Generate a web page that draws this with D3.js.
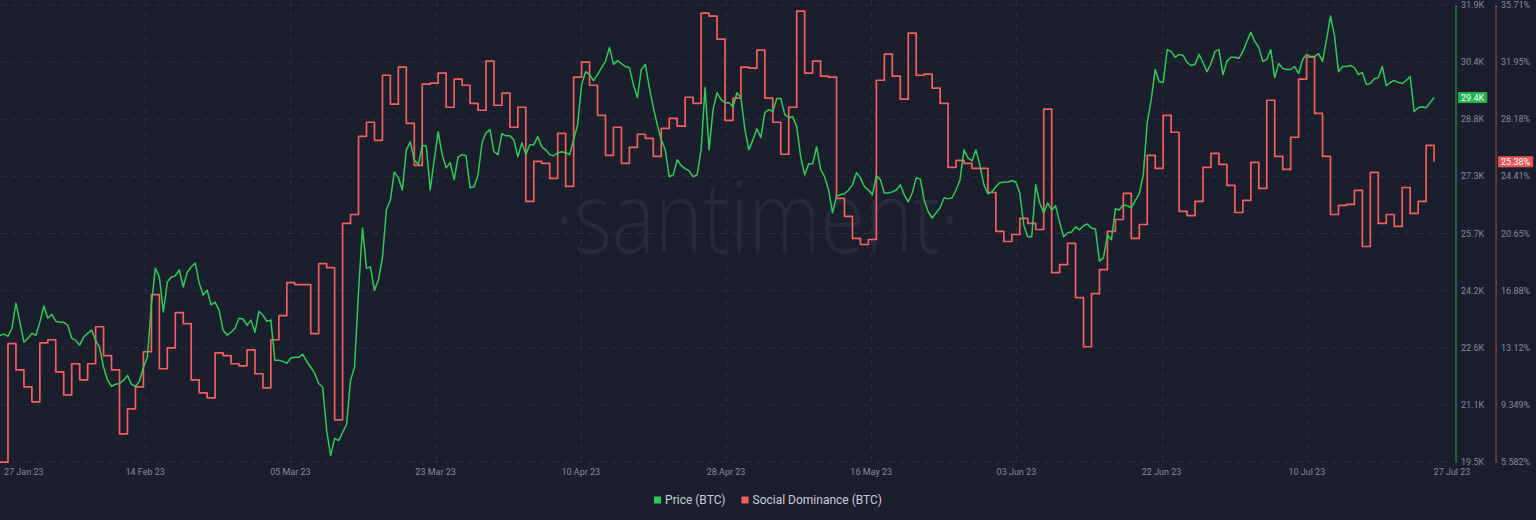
<!DOCTYPE html>
<html><head><meta charset="utf-8">
<script src="https://cdn.jsdelivr.net/npm/d3@7"></script>
<style>
html,body{margin:0;padding:0;background:#1b1e2d;}
svg{display:block;}
</style></head>
<body><svg id="chart" width="1536" height="520"></svg>
<script>
// ---------------- DATA ----------------
const startDate = new Date(2023, 0, 27);      // first sample
const endDate = new Date(2023, 6, 28, 6);      // right edge of plot
const priceStepHours = 12;
const priceValues = [
22.94,22.97,22.91,23.13,23.81,23.29,22.75,22.86,22.99,22.94,
23.29,23.73,23.40,23.51,23.32,23.29,23.29,23.21,22.86,22.80,
22.67,22.89,22.99,23.08,22.80,22.61,22.07,21.72,21.55,21.61,
21.63,21.72,21.85,21.61,21.55,21.69,22.07,22.34,23.76,24.76,
24.52,23.57,24.38,24.52,24.55,24.71,24.25,24.65,24.79,24.90,
24.36,24.03,24.16,23.76,23.84,23.62,23.08,22.94,23.02,23.13,
23.40,23.38,23.21,23.35,23.02,23.59,23.48,23.32,23.35,22.26,
22.26,22.23,22.18,22.32,22.34,22.34,22.42,22.23,22.07,21.91,
21.63,21.53,20.36,19.68,20.14,20.08,20.30,20.52,21.72,22.07,
24.14,25.85,24.76,24.79,24.16,24.44,25.04,26.34,26.61,27.37,
27.21,26.88,27.97,28.19,27.70,27.57,28.08,28.08,26.88,27.70,
28.46,27.84,27.48,27.62,27.16,27.78,27.84,27.81,26.94,26.97,
27.29,28.16,28.43,28.52,27.92,27.84,28.41,28.35,28.35,28.24,
27.78,28.16,27.84,28.11,28.11,28.33,28.05,27.97,27.84,27.81,
27.89,27.92,27.89,27.84,28.24,28.65,29.74,30.09,30.01,29.85,
30.01,30.20,30.37,30.75,30.29,30.39,30.31,30.23,30.20,29.74,
29.39,30.15,30.29,29.66,29.12,28.65,28.24,27.97,27.24,27.29,
27.70,27.54,27.46,27.40,27.24,27.29,27.97,29.66,27.97,29.06,
29.52,29.33,29.25,29.25,29.14,29.52,29.39,28.52,27.97,28.24,
28.54,28.30,28.98,29.06,29.01,29.36,29.36,28.93,28.84,28.87,
28.60,27.78,27.29,27.59,27.59,28.05,27.43,27.24,26.88,26.26,
26.72,26.75,26.78,26.88,27.02,27.35,27.21,26.97,26.88,26.75,
27.27,27.16,26.80,26.80,26.83,26.88,27.02,26.75,26.56,26.80,
27.21,27.18,26.61,26.29,26.12,26.26,26.40,26.67,26.64,26.67,
26.88,27.16,27.97,27.75,27.67,27.97,27.54,27.02,26.78,26.83,
26.97,27.08,27.10,27.10,27.13,27.10,26.80,25.93,25.61,25.61,
27.02,26.53,26.26,26.53,26.34,26.45,26.01,25.61,25.72,25.74,
25.88,25.80,25.91,25.96,25.85,25.82,24.95,25.04,25.66,25.53,
26.37,26.34,26.48,26.45,26.40,26.59,26.78,27.29,28.71,29.33,
30.15,29.82,29.80,30.69,30.64,30.48,30.56,30.53,30.34,30.26,
30.29,30.56,30.34,30.09,30.31,30.64,30.69,30.01,30.37,30.48,
30.48,30.45,30.64,30.91,31.16,30.91,30.75,30.37,30.42,30.69,
29.93,30.31,30.18,30.15,30.15,30.23,30.04,30.42,30.56,30.50,
30.50,30.58,30.37,30.96,31.60,31.07,30.09,30.23,30.23,30.26,
30.20,30.01,30.07,29.74,29.77,29.90,29.93,30.23,29.71,29.80,
29.85,29.80,29.77,29.85,29.96,29.01,29.11,29.14,29.11,29.25,
29.39
];
// one value per day, starting at startDate
const dominanceValues = [
5.58,13.38,11.66,10.54,9.55,13.44,13.64,11.53,10.01,12.06,
11.00,12.06,14.50,12.59,11.66,7.43,9.08,10.54,12.85,16.62,
11.73,13.11,15.43,14.70,11.00,10.14,9.81,12.78,12.59,12.06,
11.92,12.98,11.40,10.47,13.64,15.23,17.41,17.28,17.28,14.04,
18.66,18.40,8.36,21.31,21.90,27.05,27.98,26.79,31.08,29.17,
31.61,27.91,25.14,30.49,30.56,31.22,28.97,30.82,30.42,29.23,
28.77,32.01,29.10,29.90,27.65,28.97,22.76,25.40,25.27,24.28,
27.25,23.75,30.95,31.94,30.42,28.44,25.80,27.65,25.27,26.33,
27.19,26.92,25.73,27.58,28.24,27.72,29.63,29.23,35.18,34.98,
33.46,28.11,29.57,31.61,31.55,32.74,29.57,27.98,25.87,28.97,
35.31,31.22,32.01,31.02,30.95,22.96,21.77,20.32,19.92,20.25,
30.75,32.47,31.02,29.50,33.86,31.08,31.15,30.23,29.23,25.01,
25.47,25.27,24.94,24.94,23.35,20.78,20.12,20.58,21.64,21.31,
20.91,28.84,18.07,18.60,19.99,16.42,13.18,16.68,18.27,20.78,
21.57,23.29,20.32,21.24,25.80,24.94,28.44,27.32,22.10,21.83,
22.76,25.01,25.93,25.20,23.82,22.03,22.83,25.34,23.62,29.43,
25.73,24.87,26.99,30.82,32.27,28.57,25.73,21.90,22.50,22.56,
23.49,19.79,24.68,21.31,21.90,21.11,23.68,21.97,22.76,26.46,
25.38
];
const xTickLabels = ["27 Jan 23","14 Feb 23","05 Mar 23","23 Mar 23","10 Apr 23","28 Apr 23","16 May 23","03 Jun 23","22 Jun 23","10 Jul 23","27 Jul 23"];
const priceTickLabels = ["19.5K","21.1K","22.6K","24.2K","25.7K","27.3K","28.8K","30.4K","31.9K"];
const dominanceTickLabels = ["5.582%","9.349%","13.12%","16.88%","20.65%","24.41%","28.18%","31.95%","35.71%"];
const priceDomain = [19.5, 31.9];
const dominanceDomain = [5.582, 35.71];
const seriesNames = ["Price (BTC)", "Social Dominance (BTC)"];
const lastPriceLabel = "29.4K";
const lastDominanceLabel = "25.38%";

// ---------------- STYLE / LAYOUT ----------------
const C = {
  bg: "#1b1e2d", grid: "#2a2e40", text: "#858a9e", legend: "#c9cdd8",
  green: "#2ecc55", red: "#f25f5c", greenAxis: "#2b8f47", redAxis: "#9c4a4c",
  watermark: "#262a3a"
};
const plot = {left: 0, right: 1452, top: 5, bottom: 462};
const font = "Roboto, 'Open Sans', sans-serif";

const svg = d3.select("#chart");
svg.append("rect").attr("width", 1536).attr("height", 520).attr("fill", C.bg);

const x = d3.scaleTime().domain([startDate, endDate]).range([plot.left, plot.right]);
const yP = d3.scaleLinear().domain(priceDomain).range([plot.bottom, plot.top]);
const yS = d3.scaleLinear().domain(dominanceDomain).range([plot.bottom, plot.top]);

const priceData = priceValues.map((v, i) => ({t: d3.timeHour.offset(startDate, i * priceStepHours), v}));
const domData = dominanceValues.map((v, i) => ({t: d3.timeDay.offset(startDate, i), v}));

// watermark
svg.append("text")
  .attr("x", 757).attr("y", 253)
  .attr("text-anchor", "middle")
  .attr("font-family", "'Open Sans', sans-serif")
  .attr("font-weight", 300)
  .attr("font-size", 100)
  .attr("textLength", 405).attr("lengthAdjust", "spacingAndGlyphs")
  .attr("fill", C.watermark)
  .text("·santiment·");

// grid
const nY = priceTickLabels.length;
const priceTicks = d3.range(nY).map(i => priceDomain[0] + i * (priceDomain[1] - priceDomain[0]) / (nY - 1));
const domTicks = d3.range(nY).map(i => dominanceDomain[0] + i * (dominanceDomain[1] - dominanceDomain[0]) / (nY - 1));
const nX = xTickLabels.length;
const xTicks = d3.range(nX).map(i => new Date(+startDate + i * (endDate - startDate) / (nX - 1)));

const grid = svg.append("g");
grid.selectAll("line.h").data(priceTicks).join("line")
  .attr("x1", plot.left).attr("x2", plot.right)
  .attr("y1", d => yP(d)).attr("y2", d => yP(d))
  .attr("stroke", C.grid).attr("stroke-dasharray", "6,6").attr("stroke-width", 1);
grid.selectAll("line.v").data(xTicks.slice(1, nX - 1)).join("line")
  .attr("x1", d => Math.round(x(d)) + 0.5).attr("x2", d => Math.round(x(d)) + 0.5)
  .attr("y1", plot.top - 5).attr("y2", plot.bottom)
  .attr("stroke", C.grid).attr("stroke-dasharray", "6,6").attr("stroke-width", 1);

// x labels
svg.append("g").selectAll("text").data(xTicks).join("text")
  .attr("x", (d, i) => i === 0 ? 4 : x(d))
  .attr("y", 475)
  .attr("text-anchor", (d, i) => i === 0 ? "start" : "middle")
  .attr("font-family", font).attr("font-size", 9).attr("fill", C.text)
  .text((d, i) => xTickLabels[i]);

// lines
const clip = svg.append("clipPath").attr("id", "clip").append("rect")
  .attr("x", plot.left).attr("y", 0).attr("width", plot.right - plot.left).attr("height", plot.bottom + 1);

svg.append("path").datum(domData)
  .attr("clip-path", "url(#clip)")
  .attr("fill", "none").attr("stroke", C.red).attr("stroke-width", 1.7)
  .attr("stroke-linejoin", "round")
  .attr("d", d3.line().curve(d3.curveStepAfter).x(d => x(d.t)).y(d => yS(d.v)));

svg.append("path").datum(priceData)
  .attr("clip-path", "url(#clip)")
  .attr("fill", "none").attr("stroke", C.green).attr("stroke-width", 1.5)
  .attr("stroke-linejoin", "round")
  .attr("d", d3.line().x(d => x(d.t)).y(d => yP(d.v)));

// right axes
const axG = 1456, axR = 1496;
svg.append("line").attr("x1", axG).attr("x2", axG).attr("y1", plot.top).attr("y2", plot.bottom + 1)
  .attr("stroke", C.greenAxis).attr("stroke-width", 1.2);
svg.append("line").attr("x1", axR).attr("x2", axR).attr("y1", plot.top).attr("y2", plot.bottom + 1)
  .attr("stroke", C.redAxis).attr("stroke-width", 1.2);

svg.append("g").selectAll("text").data(priceTicks).join("text")
  .attr("x", axG + 5).attr("y", d => yP(d) + 3)
  .attr("font-family", font).attr("font-size", 9).attr("fill", C.text)
  .text((d, i) => priceTickLabels[i]);
svg.append("g").selectAll("text").data(domTicks).join("text")
  .attr("x", axR + 5).attr("y", d => yS(d) + 3)
  .attr("font-family", font).attr("font-size", 9).attr("fill", C.text)
  .text((d, i) => dominanceTickLabels[i]);

// last value badges
function badge(xPos, yPos, txt, fill) {
  const g = svg.append("g");
  const t = g.append("text").attr("x", xPos + 3).attr("y", yPos + 3.2)
    .attr("font-family", font).attr("font-size", 9).attr("fill", "#ffffff").text(txt);
  const w = t.node().getComputedTextLength();
  g.insert("rect", "text").attr("x", xPos).attr("y", yPos - 5.5)
    .attr("width", w + 6).attr("height", 11).attr("fill", fill).attr("rx", 1);
}
badge(axG + 2, yP(priceValues[priceValues.length - 1]), lastPriceLabel, "#22b24c");
badge(axR + 2, yS(dominanceValues[dominanceValues.length - 1]), lastDominanceLabel, "#e35757");

// legend
const legend = svg.append("g");
const colors = [C.green, C.red];
let cx = 0;
seriesNames.forEach((name, i) => {
  const g = legend.append("g");
  g.append("rect").attr("x", 0).attr("y", -3.5).attr("width", 7).attr("height", 7).attr("fill", colors[i]);
  const t = g.append("text").attr("x", 11).attr("y", 4).attr("font-family", font)
    .attr("font-size", 12).attr("fill", C.legend).text(name);
  const w = 11 + t.node().getComputedTextLength();
  g.attr("transform", `translate(${cx},0)`);
  cx += w + 16;
});
const totalW = cx - 16;
legend.attr("transform", `translate(${768 - totalW / 2},500)`);
</script>
</body></html>
